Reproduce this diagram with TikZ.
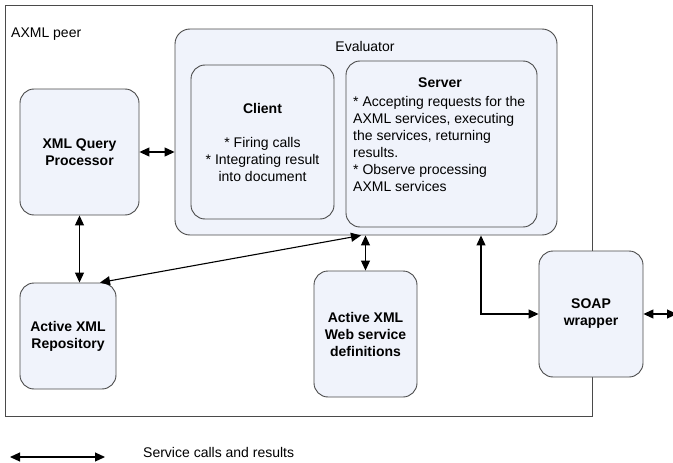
\documentclass[tikz,border=0pt]{standalone}
\usepackage{fontspec}
\setmainfont{Liberation Sans}
\usetikzlibrary{arrows.meta,calc}
\definecolor{boxfill}{HTML}{F0F3FB}
\definecolor{boxline}{HTML}{4A4A4A}
\newcommand{\basefont}{\fontsize{14}{17}\selectfont}
\tikzset{
  box/.style={draw=boxline, fill=boxfill, line width=0.9pt, rounded corners=14pt, align=center, inner sep=0pt, font=\basefont\bfseries},
  frame/.style={draw=boxline, line width=0.9pt, inner sep=0pt},
  lbl/.style={inner sep=0pt},
  dbl/.style={line width=1.1pt, line join=miter, {Triangle[length=10pt,width=9pt]}-{Triangle[length=10pt,width=9pt]}},
}
\begin{document}
\begin{tikzpicture}[x=1pt,y=-1pt, font=\basefont]
\useasboundingbox (0,0) rectangle (673,463);
\node[frame, minimum width=587pt, minimum height=411pt] (peer) at (298.5,210.5) {};
\node[lbl, anchor=west] (peerlbl) at (11,34) {AXML peer};

\node[box, minimum width=382pt, minimum height=206pt, rounded corners=15pt] (eval) at (366,132) {};
\node[lbl] (evallbl) at (365,46) {Evaluator};

\node[box, minimum width=143pt, minimum height=154pt, font=\basefont] (client) at (262.5,142)
  {\textbf{Client}\\[17pt]* Firing calls\\* Integrating result\\into document};
\node[box, minimum width=191pt, minimum height=166pt] (server) at (441.5,144) {};
\node[lbl, font=\basefont\bfseries] (srvtitle) at (440,83) {Server};
\node[lbl, anchor=west, align=left] (srvbody) at (353,143.5)
  {* Accepting requests for the\\AXML services, executing\\the services, returning\\results.\\* Observe processing\\AXML services};

\node[box, minimum width=119pt, minimum height=126pt] (xqp) at (79.5,152) {XML Query\\Processor};
\node[box, minimum width=96pt, minimum height=106pt] (repo) at (68,336) {Active XML\\Repository};
\node[box, minimum width=103pt, minimum height=126pt] (wsd) at (365.5,334) {Active XML\\Web service\\definitions};
\node[box, minimum width=104pt, minimum height=126pt] (soap) at (591,314) {SOAP\\wrapper};

\draw[dbl] (xqp.east) -- (xqp.east -| eval.west);
\draw[dbl] (xqp.south) -- (xqp.south |- repo.north);
\draw[dbl] ($(repo.north)+(32,0)$) -- ($(eval.south)+(-5,0)$);
\draw[dbl] (wsd.north) -- (wsd.north |- eval.south);
\draw[dbl] ($(eval.south)+(115,0)$) |- (soap.west);
\coordinate (ext) at (677,314);
\draw[dbl] (soap.east) -- (ext);

\coordinate (legA) at (10,457);
\coordinate (legB) at (105,457);
\draw[dbl] (legA) -- (legB);
\node[lbl, anchor=west] (legtxt) at (143,452) {Service calls and results};
\end{tikzpicture}
\end{document}
